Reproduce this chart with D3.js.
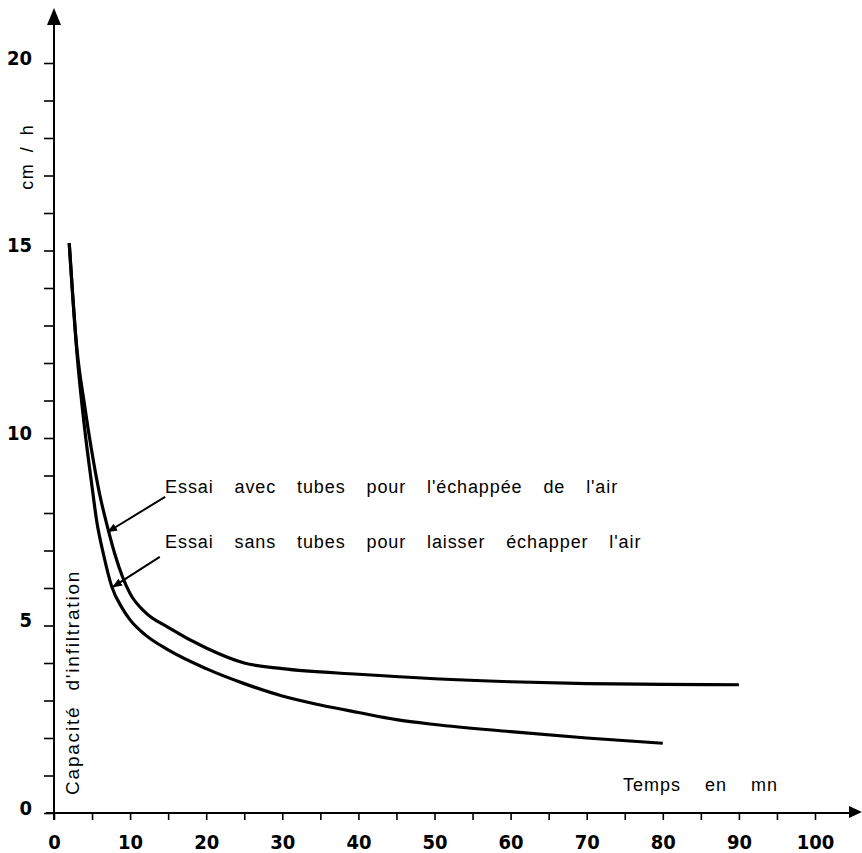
<!DOCTYPE html>
<html lang="fr">
<head>
<meta charset="UTF-8">
<title>Capacité d'infiltration</title>
<style>
  body { margin: 0; background: #fff; }
  svg text { fill: #000; }
  .num { font-family: "Liberation Sans Narrow", "DejaVu Sans Condensed", sans-serif; font-weight: bold; }
  .lbl { font-family: "Liberation Sans", Arial, sans-serif; }
</style>
</head>
<body>
<script src="https://cdn.jsdelivr.net/npm/d3@7"></script>
<script>
    const width = 862, height = 853;

    // essai avec tubes pour l'échappée de l'air
    const avecTemps = [2, 3, 4, 5, 6, 7, 8, 9, 10, 12, 15, 20, 25, 30, 40, 50, 60, 70, 80, 90];
    const avecCapa  = [15.2, 12.4, 10.9, 9.6, 8.5, 7.65, 6.9, 6.3, 5.85, 5.35, 4.95, 4.4, 4.0, 3.85, 3.7, 3.58, 3.5, 3.45, 3.43, 3.42];

    // essai sans tubes pour laisser échapper l'air
    const sansTemps = [2, 3, 4, 5, 5.6, 6.5, 7.6, 9, 10, 12, 15, 20, 25, 30, 35, 40, 45, 50, 60, 70, 80];
    const sansCapa  = [15.2, 12.3, 10.3, 8.7, 7.8, 6.9, 6.03, 5.45, 5.15, 4.75, 4.35, 3.85, 3.45, 3.12, 2.88, 2.68, 2.49, 2.36, 2.17, 2.0, 1.86];

    const xTickValues = [0, 10, 20, 30, 40, 50, 60, 70, 80, 90, 100];
    const yTickValues = [0, 5, 10, 15, 20];

    const legendText = ["Essai avec tubes pour l'échappée de l'air",
                        "Essai sans tubes pour laisser échapper l'air"];
    // legend anchors and arrow ends, in data units
    const legendPos  = [[14.6, 8.53], [14.6, 7.07]];
    const arrowFrom  = [[14.6, 8.43], [13.9, 6.83]];
    const arrowTo    = [[7.1, 7.5], [7.75, 6.03]];

    const x = d3.scaleLinear().domain([0, 100]).range([54, 815]);
    const y = d3.scaleLinear().domain([0, 20]).range([813, 63]);

    const svg = d3.select("body").append("svg")
        .attr("width", width)
        .attr("height", height)
        .attr("viewBox", [0, 0, width, height]);

    svg.append("defs").append("marker")
        .attr("id", "head")
        .attr("viewBox", "0 0 10 10")
        .attr("refX", 9).attr("refY", 5)
        .attr("markerWidth", 5).attr("markerHeight", 5)
        .attr("markerUnits", "strokeWidth")
        .attr("orient", "auto")
        .append("path").attr("d", "M0,1L10,5L0,9Z").attr("fill", "#000");

    // x axis: ticks every 5, labels every 10
    const xAxis = g => g
        .attr("transform", `translate(0,${y(0)})`)
        .call(d3.axisBottom(x)
            .tickValues(d3.range(0, 101, 5))
            .tickSize(7)
            .tickPadding(15)
            .tickFormat(d => xTickValues.includes(d) ? d : ""))
        .call(g => g.select(".domain").remove())
        .call(g => g.selectAll(".tick line").attr("stroke", "#000").attr("stroke-width", 1.6))
        .call(g => g.selectAll("text").attr("class", "num").style("font-size", "20px").attr("fill", "#000"));

    // y axis: ticks every 1, labels every 5
    const yAxis = g => g
        .attr("transform", `translate(${x(0)},0)`)
        .call(d3.axisLeft(y)
            .tickValues(d3.range(0, 21, 1))
            .tickSize(10)
            .tickPadding(12)
            .tickFormat(d => yTickValues.includes(d) ? d : ""))
        .call(g => g.select(".domain").remove())
        .call(g => g.selectAll(".tick line").attr("stroke", "#000").attr("stroke-width", 1.6))
        .call(g => g.selectAll("text").attr("class", "num").attr("dy", "0.05em").style("font-size", "20px").attr("fill", "#000"));

    svg.append("g").call(xAxis);
    svg.append("g").call(yAxis);

    // axis lines with arrow tips
    svg.append("line")
        .attr("x1", x(0) - 8).attr("x2", width - 10)
        .attr("y1", y(0)).attr("y2", y(0))
        .attr("stroke", "#000").attr("stroke-width", 2);
    svg.append("path")
        .attr("d", `M${width},${y(0) - 1}L${width - 13},${y(0) - 7}L${width - 13},${y(0) + 5}Z`)
        .attr("fill", "#000");
    svg.append("line")
        .attr("x1", x(0)).attr("x2", x(0))
        .attr("y1", y(0) + 7).attr("y2", 22)
        .attr("stroke", "#000").attr("stroke-width", 2);
    svg.append("path")
        .attr("d", `M${x(0)},8L${x(0) - 7},25L${x(0) + 7},25Z`)
        .attr("fill", "#000");

    // curves
    const line = d3.line()
        .x(d => x(d[0]))
        .y(d => y(d[1]))
        .curve(d3.curveMonotoneX);

    svg.append("path")
        .datum(d3.zip(avecTemps, avecCapa))
        .attr("fill", "none")
        .attr("stroke", "#000")
        .attr("stroke-width", 3.2)
        .attr("d", line);

    svg.append("path")
        .datum(d3.zip(sansTemps, sansCapa))
        .attr("fill", "none")
        .attr("stroke", "#000")
        .attr("stroke-width", 3.2)
        .attr("d", line);

    // legend text + arrows
    svg.append("g")
        .selectAll("text")
        .data(legendText)
        .join("text")
        .attr("class", "lbl")
        .attr("x", (d, i) => x(legendPos[i][0]))
        .attr("y", (d, i) => y(legendPos[i][1]))
        .style("font-size", "18px")
        .style("word-spacing", "15px")
        .style("letter-spacing", "0.9px")
        .text(d => d);

    svg.append("g")
        .selectAll("line")
        .data(arrowTo)
        .join("line")
        .attr("x1", (d, i) => x(arrowFrom[i][0]))
        .attr("y1", (d, i) => y(arrowFrom[i][1]))
        .attr("x2", d => x(d[0]))
        .attr("y2", d => y(d[1]))
        .attr("stroke", "#000")
        .attr("stroke-width", 2)
        .attr("marker-end", "url(#head)");

    // axis titles
    svg.append("text")
        .attr("class", "lbl")
        .attr("x", 623)
        .attr("y", 791)
        .style("font-size", "18px")
        .style("word-spacing", "18px")
        .style("letter-spacing", "1px")
        .text("Temps en mn");

    svg.append("text")
        .attr("class", "lbl")
        .attr("transform", `translate(${x(0) + 25},${y(0) - 18}) rotate(-90)`)
        .style("font-size", "19px")
        .style("word-spacing", "8px")
        .style("letter-spacing", "1.8px")
        .text("Capacité d'infiltration");

    svg.append("text")
        .attr("class", "lbl")
        .attr("transform", `translate(${x(0) - 21},${y(17.5)}) rotate(-90)`)
        .attr("text-anchor", "middle")
        .style("font-size", "18px")
        .style("word-spacing", "4px")
        .style("letter-spacing", "1.5px")
        .text("cm / h");
</script>
</body>
</html>
